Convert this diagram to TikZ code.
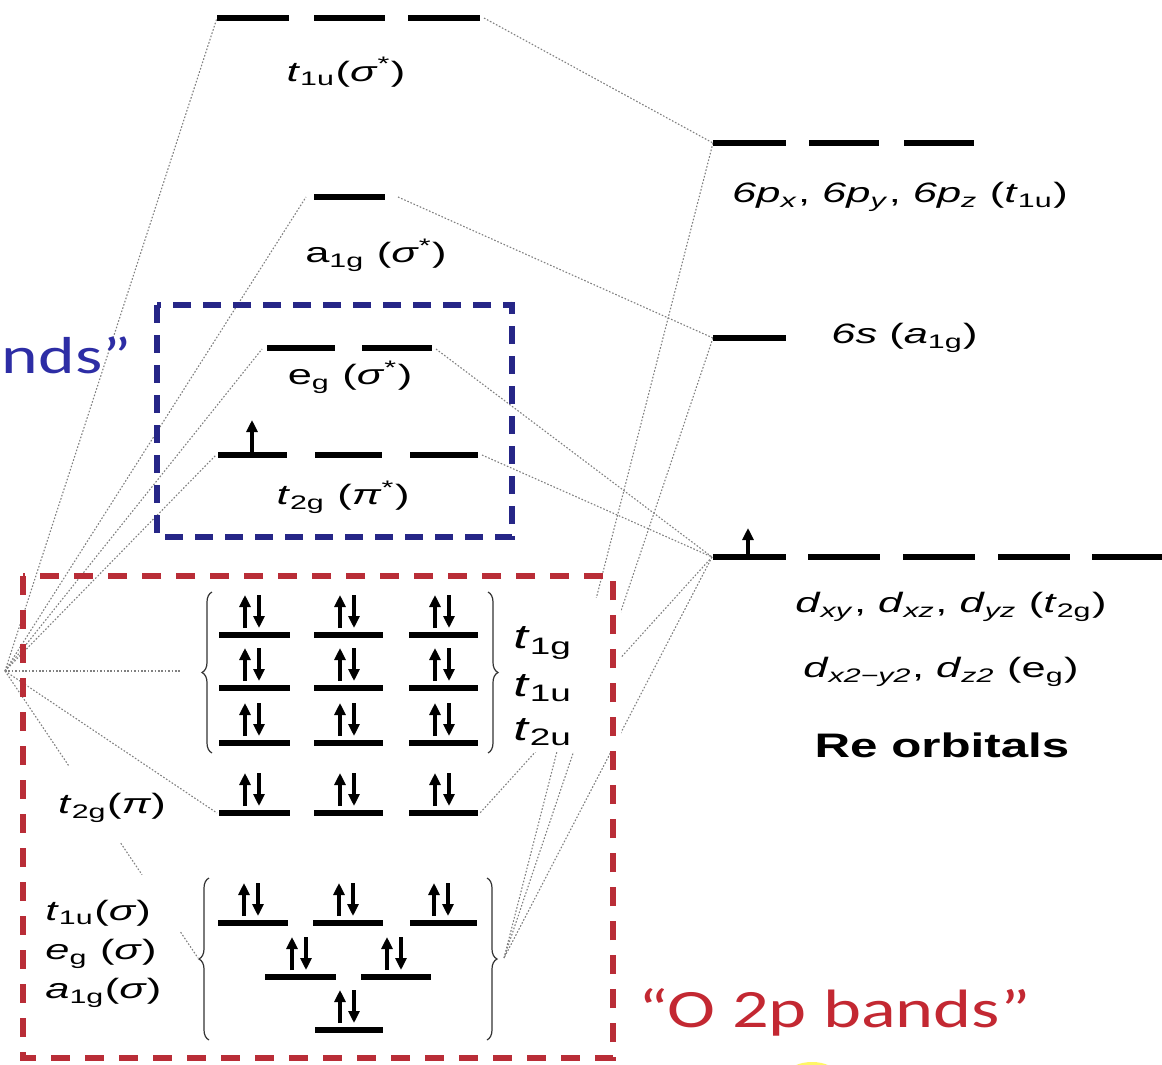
\documentclass[tikz,border=0pt]{standalone}
\usepackage{fontspec}
\setmainfont{Liberation Sans}
\newfontfamily\calib{Carlito}
\usepackage{graphicx}
\usetikzlibrary{arrows.meta,decorations.pathreplacing,calc}
\definecolor{boxblue}{RGB}{38,38,135}
\definecolor{txtblue}{RGB}{45,45,165}
\definecolor{boxred}{RGB}{185,45,55}
\definecolor{txtred}{RGB}{195,40,50}
\newcommand{\hs}[1]{\scalebox{1.55}[1]{#1}}
\newcommand{\hsc}[1]{\scalebox{1.34}[1]{#1}}
\newcommand{\Tt}{\textit{t}}
\newcommand{\sbs}[1]{\textsubscript{#1}}
\newcommand{\spx}[1]{\textsuperscript{#1}}
\newcommand{\epair}[2]{%
  \draw[spin] (#1-7,#2-7) -- (#1-7,#2-40);
  \draw[spin] (#1+7,#2-40) -- (#1+7,#2-7);}
\tikzset{
  lvl/.style={line width=2.8pt, black},
  conn/.style={black!50, line width=0.55pt, dash pattern=on 0.8pt off 0.9pt},
  spin/.style={line width=2pt, -{Triangle[width=5.5pt,length=6pt]}},
  lbl/.style={font=\fontsize{14}{16}\selectfont, inner sep=0pt},
  biglbl/.style={font=\fontsize{17}{19}\selectfont, inner sep=0pt},
  brc/.style={decorate, decoration={brace, amplitude=5pt}, line width=0.6pt, black!80},
  bluebox/.style={boxblue, line width=2.6pt, dash pattern=on 9pt off 6pt},
  redbox/.style={boxred, line width=2.6pt, dash pattern=on 9.5pt off 7.5pt}
}
\begin{document}
\begin{tikzpicture}[x=0.5pt,y=-0.5pt]
\useasboundingbox (0,0) rectangle (1162,1065);
\fill[white] (0,0) rectangle (1162,1065);
\fill[yellow!60!white] (812,1074) ellipse [x radius=12pt, y radius=6pt];

% ---------- anchor coordinates ----------
\coordinate (L) at (5,671);
\coordinate (tsA) at (217,18);
\coordinate (tsB) at (484,18);
\coordinate (p6L) at (713,143);
\coordinate (a1gL) at (306,197);
\coordinate (a1gR) at (398,197);
\coordinate (s6L) at (713,338);
\coordinate (egL) at (262,349);
\coordinate (egR) at (436,349);
\coordinate (t2L) at (216,455);
\coordinate (t2R) at (482,455);
\coordinate (dL) at (712,557);
\coordinate (gtip) at (180,671);
\coordinate (pL) at (217,813);
\coordinate (pR) at (480,813);
\coordinate (bL) at (198,958);
\coordinate (bR) at (504,958);

% ---------- connectors ----------
\draw[conn] (L) -- (tsA);
\draw[conn] (L) -- (a1gL);
\draw[conn] (L) -- (egL);
\draw[conn] (L) -- (t2L);
\draw[conn] (L) -- (gtip);
\draw[conn] (L) -- (pL);
\draw[conn] (L) -- ($(L)!0.334!(bL)$);
\draw[conn] ($(L)!0.60!(bL)$) -- ($(L)!0.71!(bL)$);
\draw[conn] ($(L)!0.91!(bL)$) -- (bL);
\draw[conn] (tsB) -- (p6L);
\draw[conn] (a1gR) -- (s6L);
\draw[conn] (egR) -- (dL);
\draw[conn] (t2R) -- (dL);
\draw[conn] (p6L) -- (bR);
\draw[conn] (s6L) -- (bR);
\draw[conn] (dL) -- (bR);
\draw[conn] (dL) -- (pR);
\fill[white] (505,598) rectangle (621,752);

% ---------- boxes ----------
\draw[bluebox] (157,305) rectangle (512,537);
\draw[redbox] (23,576) rectangle (613,1058);

% ---------- levels: antibonding ----------
\draw[lvl] (217,18) -- (289,18);
\draw[lvl] (314,18) -- (385,18);
\draw[lvl] (408,18) -- (480,18);
\draw[lvl] (314,197) -- (385,197);
\draw[lvl] (267,348) -- (335,348);
\draw[lvl] (362,348) -- (432,348);
\draw[lvl] (218,455) -- (287,455);
\draw[lvl] (315,455) -- (382,455);
\draw[lvl] (410,455) -- (478,455);
\draw[spin] (252,452) -- (252,420);

% ---------- Re orbitals ----------
\draw[lvl] (713,143) -- (786,143);
\draw[lvl] (809,143) -- (879,143);
\draw[lvl] (904,143) -- (974,143);
\draw[lvl] (713,338) -- (786,338);
\draw[lvl] (713,557) -- (786,557);
\draw[lvl] (808,557) -- (880,557);
\draw[lvl] (903,557) -- (975,557);
\draw[lvl] (998,557) -- (1070,557);
\draw[lvl] (1092,557) -- (1162,557);
\draw[spin] (748,554) -- (748,528);

% ---------- nonbonding grid ----------
\foreach \yy in {635,688,743,813}{
  \draw[lvl] (219,\yy) -- (290,\yy);
  \draw[lvl] (314,\yy) -- (383,\yy);
  \draw[lvl] (409,\yy) -- (478,\yy);
  \epair{252}{\yy}
  \epair{347}{\yy}
  \epair{442}{\yy}
}
\draw[brc] (212,753) -- (212,592);
\draw[brc] (488,592) -- (488,753);

% ---------- bonding sigma ----------
\draw[lvl] (218,923) -- (288,923);
\draw[lvl] (313,923) -- (383,923);
\draw[lvl] (410,923) -- (477,923);
\draw[lvl] (265,977) -- (336,977);
\draw[lvl] (361,977) -- (431,977);
\draw[lvl] (315,1030) -- (383,1030);
\epair{251}{923}
\epair{346}{923}
\epair{441}{923}
\epair{299}{977}
\epair{394}{977}
\epair{347}{1030}
\draw[brc] (209,1040) -- (209,878);
\draw[brc] (487,878) -- (487,1040);

% ---------- labels ----------
\node[lbl] (ltus) at (346,72) {\hs{\Tt\sbs{1u}(\textit{σ}\spx{*})}};
\node[lbl] (lags) at (376,255) {\hs{a\sbs{1g} (\textit{σ}\spx{*})}};
\node[lbl] (legs) at (350,377) {\hs{e\sbs{g} (\textit{σ}\spx{*})}};
\node[lbl] (ltgp) at (343,497) {\hs{\Tt\sbs{2g} (\textit{π}\spx{*})}};
\node[lbl] (l6p) at (900,197) {\hs{\textit{6p}\sbs{\textit{x}}, \textit{6p}\sbs{\textit{y}}, \textit{6p}\sbs{\textit{z}} (\Tt\sbs{1u})}};
\node[lbl, anchor=west] (l6s) at (831,338) {\hs{\textit{6s} (\textit{a}\sbs{1g})}};
\node[lbl] (ld1) at (951,607) {\hs{\textit{d}\sbs{\textit{xy}}, \textit{d}\sbs{\textit{xz}}, \textit{d}\sbs{\textit{yz}} (\Tt\sbs{2g})}};
\node[lbl] (ld2) at (941,672) {\hs{\textit{d}\sbs{\textit{x2−y2}}, \textit{d}\sbs{\textit{z2}} (e\sbs{g})}};
\node[font=\fontsize{17}{19}\selectfont\bfseries, inner sep=0pt] (lre) at (942,745) {\scalebox{1.45}[1]{Re orbitals}};
\node[biglbl, anchor=west] (ltg1) at (513,643) {\hs{\Tt\sbs{1g}}};
\node[biglbl, anchor=west] (ltu1) at (513,688) {\hs{\Tt\sbs{1u}}};
\node[biglbl, anchor=west] (ltu2) at (513,732) {\hs{\Tt\sbs{2u}}};
\node[lbl] (ltpi) at (112,808) {\hs{\Tt\sbs{2g}(\textit{π})}};
\node[lbl, anchor=west] (lbs1) at (45,913) {\hs{\Tt\sbs{1u}(\textit{σ})}};
\node[lbl, anchor=west] (lbs2) at (45,954) {\hs{\textit{e}\sbs{g} (\textit{σ})}};
\node[lbl, anchor=west] (lbs3) at (45,993) {\hs{\textit{a}\sbs{1g}(\textit{σ})}};
\node[font=\calib\fontsize{27}{30}\selectfont, text=txtred, anchor=west, inner sep=0pt] (lo2p) at (638,1012) {\hsc{“O 2p bands”}};
\node[font=\calib\fontsize{26}{30}\selectfont, text=txtblue, anchor=east, inner sep=0pt] (lnds) at (132,355) {\hsc{nds”}};
\end{tikzpicture}
\end{document}
